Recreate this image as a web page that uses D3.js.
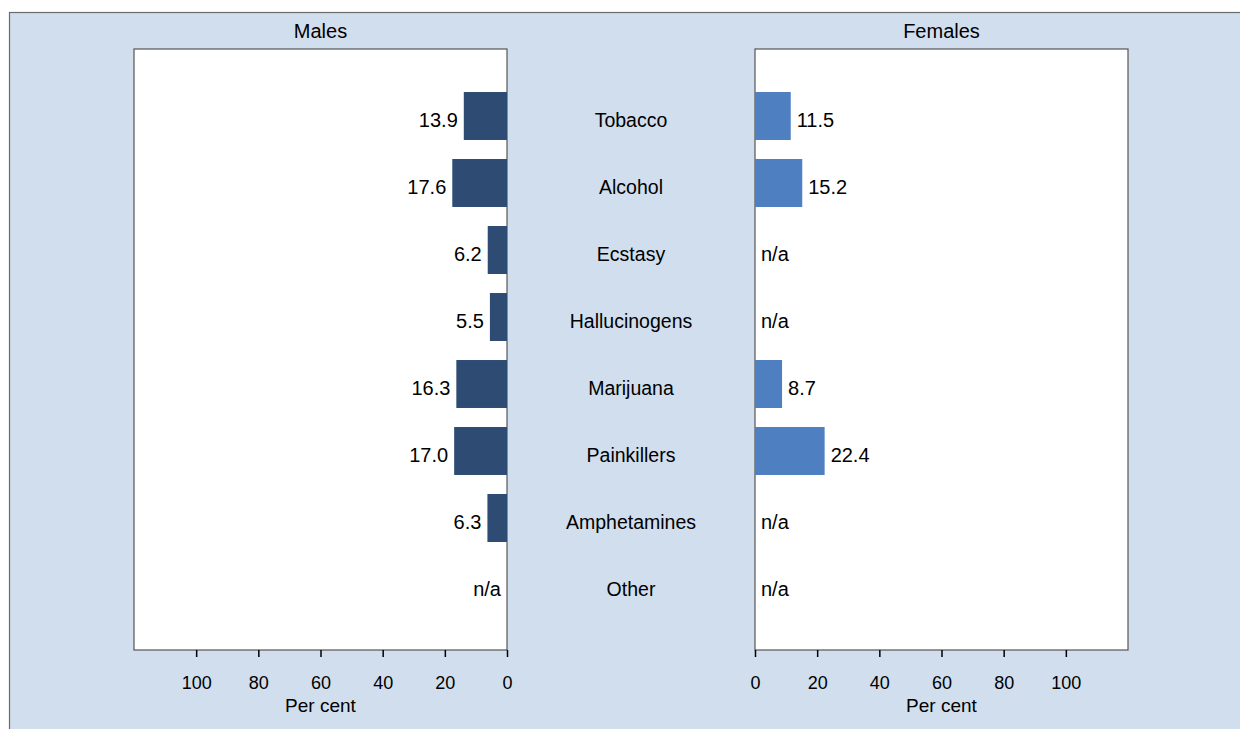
<!DOCTYPE html>
<html>
<head>
<meta charset="utf-8">
<script src="https://cdn.jsdelivr.net/npm/d3@7"></script>
<style>
body { margin: 0; background: #fff; }
svg { display: block; font-family: "Liberation Sans", Arial, sans-serif; }
</style>
</head>
<body>
<svg width="1240" height="729"></svg>
<script>
var categories = ["Tobacco", "Alcohol", "Ecstasy", "Hallucinogens", "Marijuana", "Painkillers", "Amphetamines", "Other"];
var males = [13.9, 17.6, 6.2, 5.5, 16.3, 17.0, 6.3, null];
var females = [11.5, 15.2, null, null, 8.7, 22.4, null, null];
var ticks = [0, 20, 40, 60, 80, 100];

var svg = d3.select("svg");

// background frame
svg.append("rect")
	.attr("x", 9.5).attr("y", 12.5)
	.attr("width", 1240).attr("height", 730)
	.attr("fill", "#d1deed")
	.attr("stroke", "#6b6b6b")
	.attr("stroke-width", 1.2);

var plotTop = 49, plotBottom = 650;
var y = d3.scaleBand().domain(categories).range([82.5, 618.5]).paddingInner(0.284).paddingOuter(0.142);

var xm = d3.scaleLinear().domain([0, 120]).range([507, 134]);
var xf = d3.scaleLinear().domain([0, 120]).range([755, 1128]);

function panel(x, vals, color, title, left) {
	var x0 = x(0), x1 = x(120);
	var lo = Math.min(x0, x1), hi = Math.max(x0, x1);

	svg.append("rect")
		.attr("x", lo).attr("y", plotTop)
		.attr("width", hi - lo).attr("height", plotBottom - plotTop)
		.attr("fill", "#fff")
		.attr("stroke", "#555")
		.attr("stroke-width", 1.2);

	svg.append("text")
		.attr("x", (lo + hi) / 2).attr("y", 38)
		.attr("text-anchor", "middle")
		.attr("font-size", 20)
		.text(title);

	var data = categories.map(function(c, i) { return { cat: c, v: vals[i] }; });

	svg.selectAll(null)
		.data(data.filter(function(d) { return d.v != null; }))
		.enter().append("rect")
		.attr("x", function(d) { return Math.min(x(0), x(d.v)); })
		.attr("y", function(d) { return y(d.cat); })
		.attr("width", function(d) { return Math.abs(x(d.v) - x(0)); })
		.attr("height", y.bandwidth())
		.attr("fill", color);

	svg.selectAll(null)
		.data(data)
		.enter().append("text")
		.attr("x", function(d) {
			var v = d.v == null ? 0 : d.v;
			return x(v) + (left ? -6 : 6);
		})
		.attr("y", function(d) { return y(d.cat) + y.bandwidth() / 2 + 4; })
		.attr("dy", "0.36em")
		.attr("text-anchor", left ? "end" : "start")
		.attr("font-size", 20)
		.text(function(d) { return d.v == null ? "n/a" : d.v.toFixed(1); });

	// axis
	var ax = svg.append("g")
		.attr("transform", "translate(0," + plotBottom + ")")
		.call(d3.axisBottom(x).tickValues(ticks).tickSize(7).tickPadding(19).tickFormat(d3.format("d")));
	ax.select(".domain").remove();
	ax.selectAll(".tick line").attr("stroke", "#000").attr("stroke-width", 1.5);
	ax.selectAll(".tick text").attr("font-size", 18).attr("font-family", "Liberation Sans, Arial, sans-serif").attr("fill", "#000");

	svg.append("text")
		.attr("x", (lo + hi) / 2).attr("y", 712)
		.attr("text-anchor", "middle")
		.attr("font-size", 19)
		.text("Per cent");
}

panel(xm, males, "#2e4b73", "Males", true);
panel(xf, females, "#4e7fc0", "Females", false);

// category labels in the middle
svg.selectAll(null)
	.data(categories)
	.enter().append("text")
	.attr("x", 631)
	.attr("y", function(d) { return y(d) + y.bandwidth() / 2 + 4; })
	.attr("dy", "0.36em")
	.attr("text-anchor", "middle")
	.attr("font-size", 19.5)
	.text(function(d) { return d; });
</script>
</body>
</html>
